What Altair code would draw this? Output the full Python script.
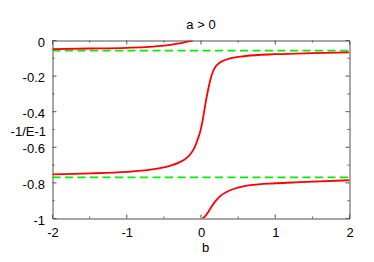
import altair as alt
import pandas as pd

# ---- data ----
upper_b = [-2.0, -1.5, -1.0, -0.7, -0.5, -0.35, -0.25, -0.18, -0.11]
upper_y = [-0.048, -0.045, -0.041, -0.036, -0.029, -0.020, -0.013, -0.007, 0.0]

mid_b = [-2.0, -1.5, -1.0, -0.7, -0.5, -0.4, -0.3, -0.2, -0.15, -0.1, -0.07, -0.04,
         -0.013, 0.01, 0.031, 0.05, 0.077, 0.1, 0.12, 0.14, 0.166, 0.2, 0.256, 0.3,
         0.39, 0.6, 1.0, 1.5, 2.0]
mid_y = [-0.752, -0.747, -0.738, -0.727, -0.713, -0.702, -0.686, -0.662, -0.642,
         -0.612, -0.585, -0.550, -0.515, -0.475, -0.428, -0.380, -0.316, -0.268,
         -0.232, -0.200, -0.170, -0.145, -0.124, -0.114, -0.101, -0.087, -0.077,
         -0.071, -0.067]

low_b = [0.02, 0.06, 0.1, 0.15, 0.21, 0.27, 0.35, 0.45, 0.66, 1.0, 1.33, 2.0]
low_y = [-1.0, -0.985, -0.962, -0.928, -0.895, -0.870, -0.850, -0.833, -0.813,
         -0.802, -0.796, -0.785]

asymptotes = [-0.057, -0.769]
x_range = [-2.0, 2.0]

x_major = [-2, -1, 0, 1, 2]
x_minor = [-1.5, -0.5, 0.5, 1.5]
y_major = [0, -0.2, -0.4, -0.6, -0.8, -1]
y_minor = [-0.1, -0.3, -0.5, -0.7, -0.9]

W, H = 297, 178
FONT = "Liberation Sans"

curves = pd.concat([
    pd.DataFrame({"b": upper_b, "y": upper_y, "seg": "upper"}),
    pd.DataFrame({"b": mid_b, "y": mid_y, "seg": "mid"}),
    pd.DataFrame({"b": low_b, "y": low_y, "seg": "low"}),
], ignore_index=True)

asym = pd.DataFrame([
    {"b": xb, "y": yv, "seg": str(i)}
    for i, yv in enumerate(asymptotes) for xb in x_range
])

xs = alt.Scale(domain=[-2, 2], nice=False, zero=False)
ys = alt.Scale(domain=[-1, 0], nice=False, zero=False)

x_axis = alt.Axis(values=x_major, labelExpr="'' + datum.value", title="b",
                  labelBaseline="alphabetic", labelPadding=18.4,
                  labelOverlap=False, labelFlush=False, labelBound=False,
                  titleX=152.5, titleY=33.2, titleAlign="center",
                  titleBaseline="alphabetic")
y_axis = alt.Axis(values=y_major, labelExpr="'' + datum.value", title="-1/E-1",
                  labelPadding=8, labelOffset=1.5,
                  labelOverlap=False, labelFlush=False, labelBound=False,
                  titleAngle=0, titleAlign="right", titleBaseline="middle",
                  titleX=-7, titleY=91)

lines = alt.Chart(curves).mark_line(
    color="#ff0000", strokeWidth=1.8, interpolate="monotone", clip=True
).encode(
    x=alt.X("b:Q", scale=xs, axis=x_axis),
    y=alt.Y("y:Q", scale=ys, axis=y_axis),
    detail="seg:N",
)

dashed = alt.Chart(asym).mark_line(
    color="#00ee00", strokeWidth=1.8, strokeDash=[8, 4.5], clip=True
).encode(
    x=alt.X("b:Q", scale=xs, axis=x_axis),
    y=alt.Y("y:Q", scale=ys, axis=y_axis),
    detail="seg:N",
)

tick_color = "#555555"
tick_layers = []
for vals, L in [(x_major, 4), (x_minor, 2)]:
    d = pd.DataFrame({"t": vals})
    tick_layers.append(alt.Chart(d).mark_rule(color=tick_color, strokeWidth=1).encode(
        x=alt.X("t:Q", scale=xs, axis=x_axis), y=alt.value(H), y2=alt.value(H - L)))
    tick_layers.append(alt.Chart(d).mark_rule(color=tick_color, strokeWidth=1).encode(
        x=alt.X("t:Q", scale=xs, axis=x_axis), y=alt.value(0), y2=alt.value(L)))
for vals, L in [(y_major, 4), (y_minor, 2)]:
    d = pd.DataFrame({"t": vals})
    tick_layers.append(alt.Chart(d).mark_rule(color=tick_color, strokeWidth=1).encode(
        y=alt.Y("t:Q", scale=ys, axis=y_axis), x=alt.value(0), x2=alt.value(L)))
    tick_layers.append(alt.Chart(d).mark_rule(color=tick_color, strokeWidth=1).encode(
        y=alt.Y("t:Q", scale=ys, axis=y_axis), x=alt.value(W), x2=alt.value(W - L)))

chart = alt.layer(*tick_layers, dashed, lines).properties(
    width=W, height=H,
    background="white",
    title=alt.TitleParams("a > 0", fontSize=13, font=FONT, fontWeight="normal",
                          anchor="middle", color="black", offset=0, dy=6,
                          baseline="alphabetic"),
    autosize=alt.AutoSizeParams(type="none"),
    padding={"left": 44.5, "top": 32.5, "right": 16.5, "bottom": 35.5},
).configure_view(
    stroke="#505050", strokeWidth=1
).configure_axis(
    domain=False, ticks=False, tickSize=0, grid=False,
    labelFont=FONT, titleFont=FONT, labelFontSize=13, titleFontSize=13,
    labelColor="black", titleColor="black", titleFontWeight="normal",
    labelFlush=False, labelOverlap=False, labelBound=False,
)

chart.save("out.html", embed_options={"renderer": "svg", "actions": False})
